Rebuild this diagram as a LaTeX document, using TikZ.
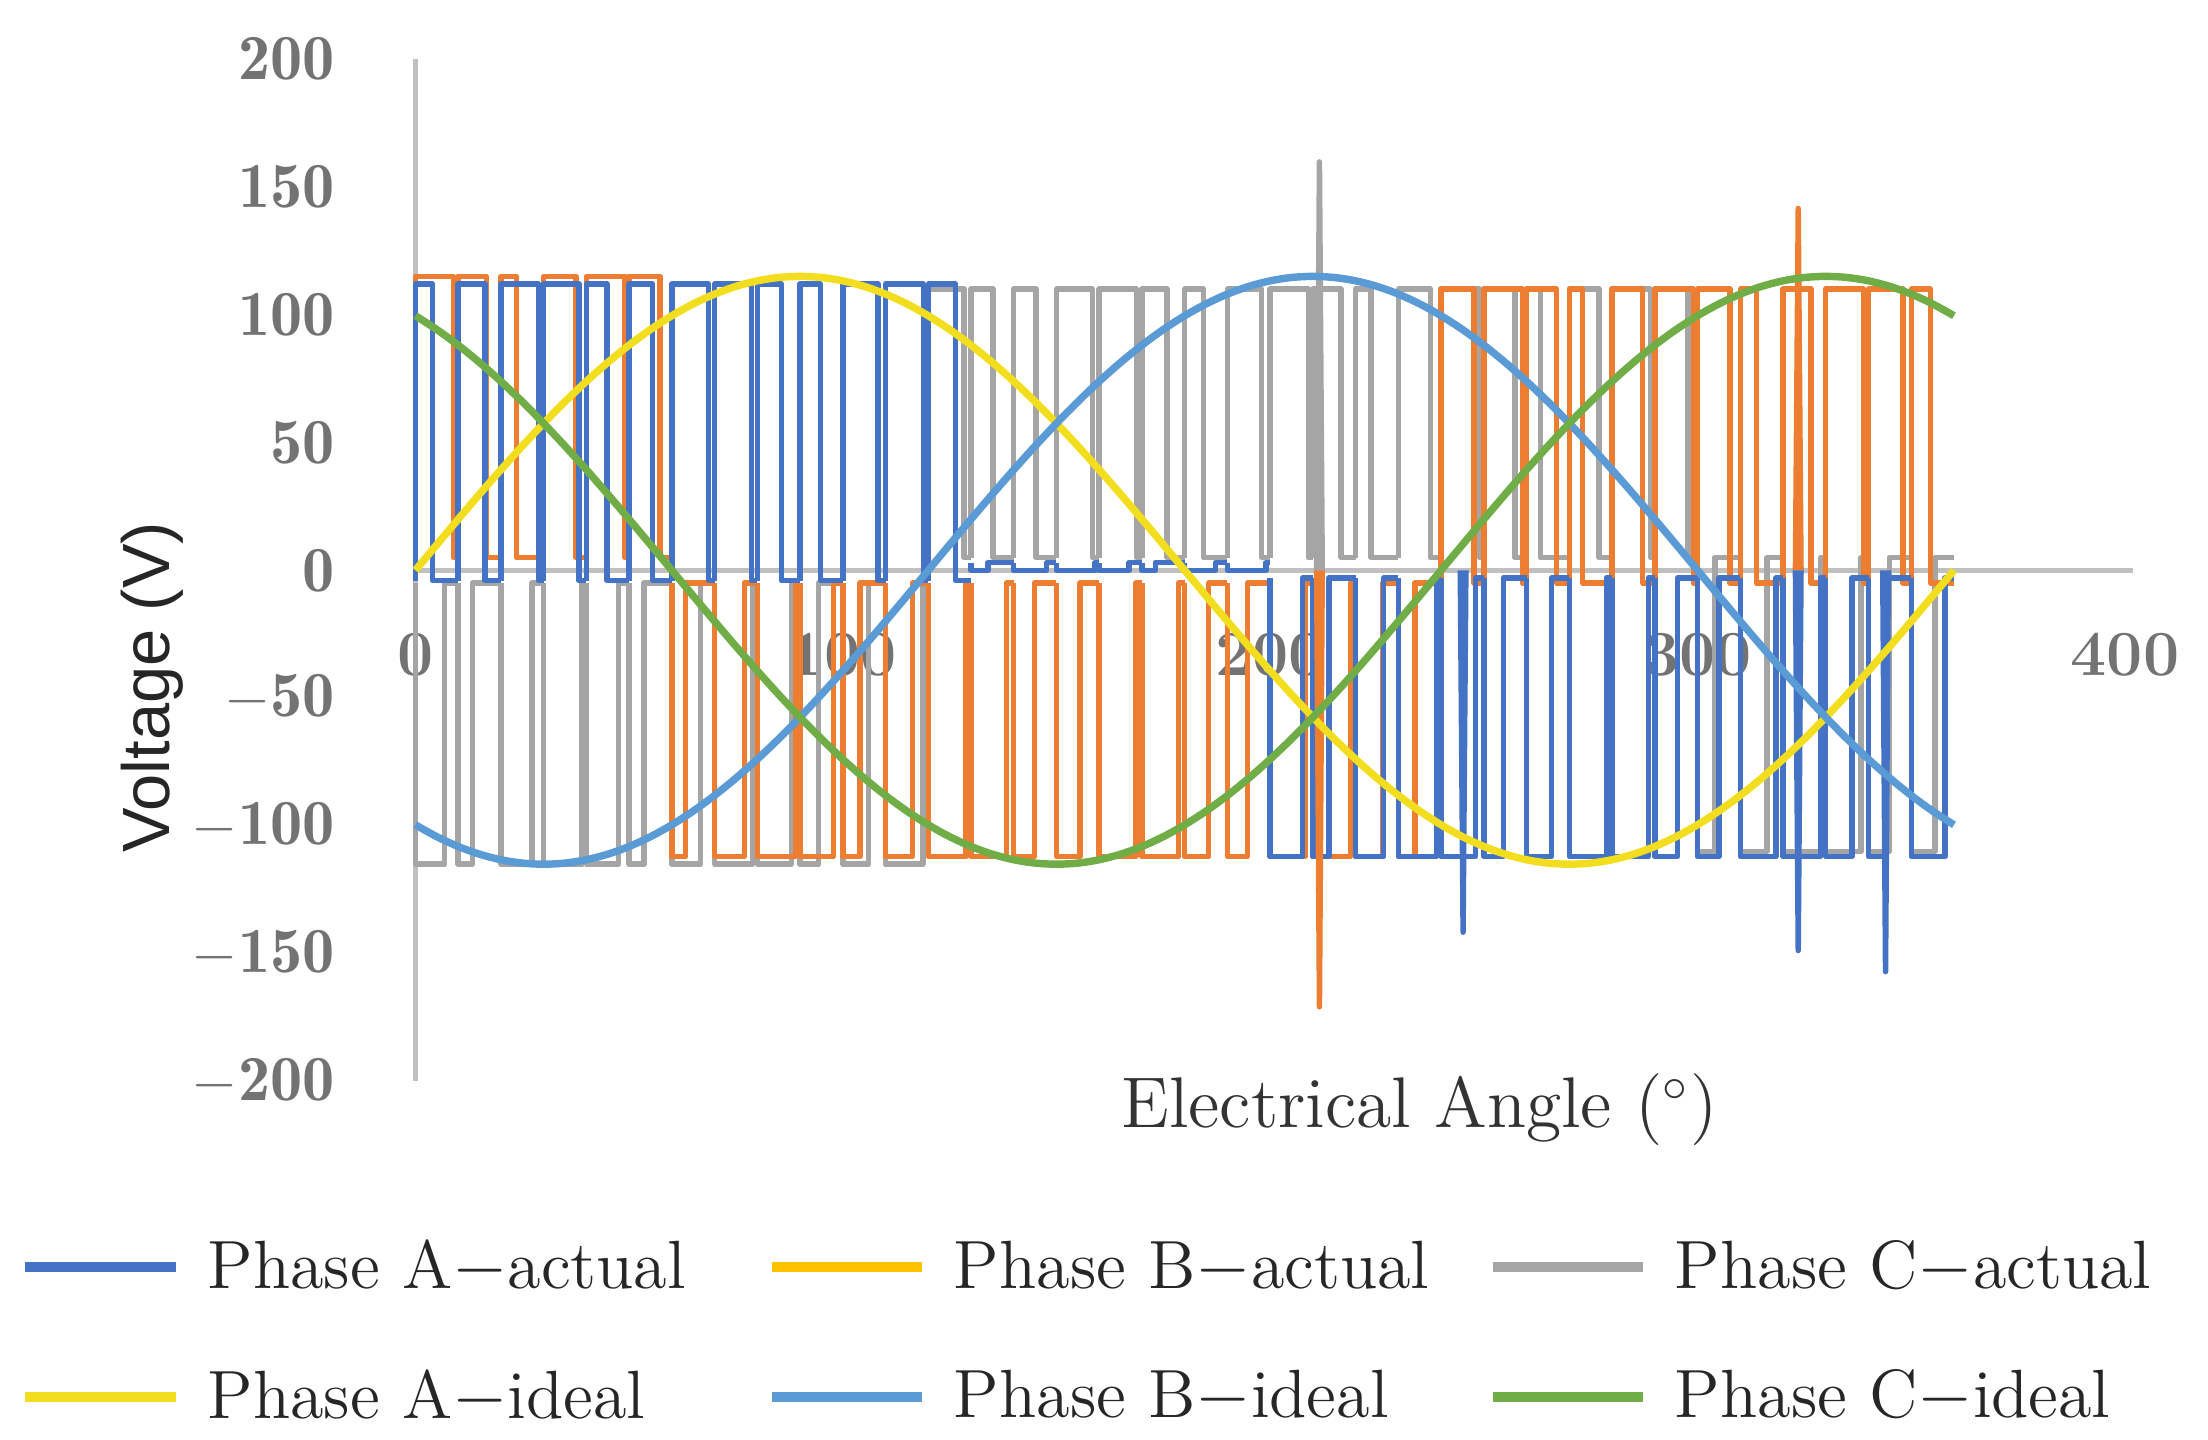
\documentclass[tikz,border=0pt]{standalone}
\usepackage{fontspec}
\newfontfamily\sansf{Liberation Sans}
\begin{document}
\begin{tikzpicture}[x=0.1mm,y=-0.1mm,
  tick/.style={font=\fontsize{13}{14}\selectfont\bfseries, text=black!55},
  leg/.style={font=\fontsize{13.8}{15}\selectfont, text=black!85, anchor=west},
  wave/.style={line width=1.1pt, line join=round},
  ideal/.style={line width=1.5pt, smooth}]
\definecolor{cA}{HTML}{4472C4}\definecolor{cB}{HTML}{ED7D31}\definecolor{cC}{HTML}{A5A5A5}
\definecolor{cBl}{HTML}{FFC000}
\definecolor{iA}{HTML}{F2DE1E}\definecolor{iB}{HTML}{5B9BD5}\definecolor{iC}{HTML}{70AD47}
\useasboundingbox (0,0) rectangle (1568,1022);
% axes
\draw[cC!70, line width=1pt] (295,42) -- (295,768);
\draw[cC!70, line width=1pt] (295,405) -- (1515,405);
% y ticks
\foreach \v in {200,150,100,50,0,-50,-100,-150,-200}
  \node[tick, anchor=east] (y\v) at (250,{405-1.815*\v}) {$\mathbf{\v}$};
\foreach \v in {0,100,200,300,400}
  \node[tick] (x\v) at ({295+3.035*\v},465) {\v};
\node[font=\sansf\fontsize{13.5}{15}\selectfont, text=black!85, rotate=90] (ylab) at (108,488) {Voltage (V)};
\node[font=\fontsize{14.5}{16}\selectfont, text=black!80] (xlab) at (1008,788) {Electrical Angle ($^{\circ}$)};
% actual waves
\newcommand{\pwm}[4]{%
\foreach \k in {0,...,35}{
  \pgfmathsetmacro{\a}{10*\k}
  \pgfmathsetmacro{\lv}{#2}
  \pgfmathsetmacro{\d}{10*(0.3+0.6*abs(sin(137*\k+#3)))}
  \pgfmathsetmacro{\z}{#4}
  \draw[wave,#1] ({295+3.035*\a},{405-1.815*\z}) -- ({295+3.035*\a},{405-1.815*\lv}) -- ({295+3.035*(\a+\d)},{405-1.815*\lv}) -- ({295+3.035*(\a+\d)},{405-1.815*\z}) -- ({295+3.035*(\a+10)},{405-1.815*\z});
}}
\pwm{cC}{ifthenelse(\a<120,-115,ifthenelse(\a<300,110,-110))}{40}{ifthenelse(\a<120,-5,5)}
\pwm{cB}{ifthenelse(\a<60,115,ifthenelse(\a<240,-112,110))}{80}{ifthenelse(\a<60,5,-5)}
\pwm{cA}{ifthenelse(\a<125,112,ifthenelse(\a<200,0,-112))}{10}{ifthenelse(\a<125,-4,ifthenelse(\a<200,3,-3))}
% spikes
\draw[wave,cC] (935,405) -- (937,115) -- (939,405);
\draw[wave,cB] (935,405) -- (937,715) -- (939,405);
\draw[wave,cB] (1275,405) -- (1277,148) -- (1279,405);
\draw[wave,cA] (1337,405) -- (1339,690) -- (1341,405);
\draw[wave,cA] (1275,405) -- (1277,675) -- (1279,405);
\draw[wave,cA] (1037,405) -- (1039,662) -- (1041,405);
% ideal sines
\draw[ideal,iA] plot[domain=0:360,samples=73] ({295+3.035*\x},{405-1.815*115*sin(\x)});
\draw[ideal,iB] plot[domain=0:360,samples=73] ({295+3.035*\x},{405-1.815*115*sin(\x-120)});
\draw[ideal,iC] plot[domain=0:360,samples=73] ({295+3.035*\x},{405-1.815*115*sin(\x+120)});
% legend
\draw[line width=2pt,cA] (18,900) -- (125,900); \node[leg] (l1) at (135,900) {Phase A$-$actual};
\draw[line width=2pt,cBl] (548,900) -- (655,900); \node[leg] (l2) at (665,900) {Phase B$-$actual};
\draw[line width=2pt,cC] (1060,900) -- (1167,900); \node[leg] (l3) at (1177,900) {Phase C$-$actual};
\draw[line width=2pt,iA] (18,992) -- (125,992); \node[leg] (l4) at (135,992) {Phase A$-$ideal};
\draw[line width=2pt,iB] (548,992) -- (655,992); \node[leg] (l5) at (665,992) {Phase B$-$ideal};
\draw[line width=2pt,iC] (1060,992) -- (1167,992); \node[leg] (l6) at (1177,992) {Phase C$-$ideal};
\end{tikzpicture}
\end{document}
